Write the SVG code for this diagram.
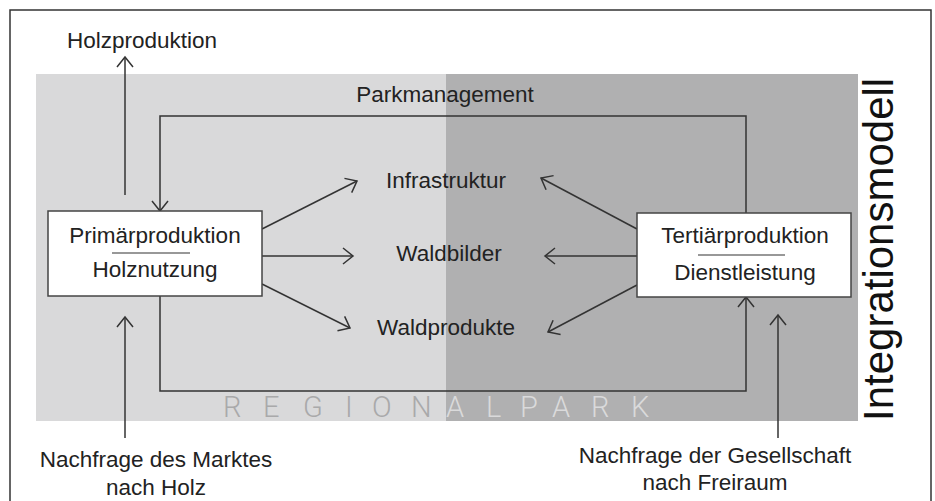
<svg xmlns="http://www.w3.org/2000/svg" width="935" height="501" viewBox="0 0 935 501">
<style>
.lbl{font-family:"Liberation Sans",Arial,sans-serif;font-size:22.5px;fill:#222;text-anchor:middle}
.ln{fill:none;stroke:#333;stroke-width:1.5}
.box{fill:#fff;stroke:#444;stroke-width:1.5}
.rp{font-family:Roboto,"Liberation Sans",sans-serif;font-weight:300;font-size:29px}
</style>
<defs>
<marker id="arr" viewBox="-12 -10 14 20" refX="0" refY="0" markerWidth="14" markerHeight="20" markerUnits="userSpaceOnUse" orient="auto">
<path d="M-10,-8 L0,0 L-10,8" fill="none" stroke="#333" stroke-width="1.5"/>
</marker>
</defs>
<rect x="0" y="0" width="935" height="501" fill="#fff"/>
<rect x="10" y="10" width="921" height="500" fill="none" stroke="#333" stroke-width="1.5"/>
<g id="background">
<rect x="36" y="74" width="410" height="347" fill="#d9d9da"/>
<rect x="446" y="74" width="412" height="347" fill="#b0b0b1"/>
<text class="rp" fill="#a9a9aa" x="223 263 303 345 372 411" y="417">REGION</text>
<text class="rp" fill="#dadadb" x="446 486 520 552 591 631" y="417">ALPARK</text>
</g>
<g id="connectors">
<line class="ln" x1="125" y1="195" x2="125" y2="57" marker-end="url(#arr)"/>
<polyline class="ln" points="746,213 746,116 160,116 160,211" marker-end="url(#arr)"/>
<polyline class="ln" points="160,296 160,391 746,391 746,297" marker-end="url(#arr)"/>
<line class="ln" x1="262" y1="229" x2="357" y2="181" marker-end="url(#arr)"/>
<line class="ln" x1="262" y1="256" x2="353" y2="256" marker-end="url(#arr)"/>
<line class="ln" x1="262" y1="284" x2="350" y2="328" marker-end="url(#arr)"/>
<line class="ln" x1="637" y1="229" x2="541" y2="178" marker-end="url(#arr)"/>
<line class="ln" x1="637" y1="256" x2="545" y2="256" marker-end="url(#arr)"/>
<line class="ln" x1="637" y1="285" x2="548" y2="332" marker-end="url(#arr)"/>
<line class="ln" x1="125" y1="438" x2="125" y2="317" marker-end="url(#arr)"/>
<line class="ln" x1="778" y1="438" x2="778" y2="315" marker-end="url(#arr)"/>
</g>
<g id="primaer">
<rect class="box" x="48" y="211" width="214" height="85"/>
<text class="lbl" x="155" y="243">Primärproduktion</text>
<line x1="112" y1="253" x2="190" y2="253" stroke="#333" stroke-width="1.2"/>
<text class="lbl" x="155" y="277">Holznutzung</text>
</g>
<g id="tertiaer">
<rect class="box" x="637" y="213" width="214" height="84"/>
<text class="lbl" x="745" y="243">Tertiärproduktion</text>
<line x1="698" y1="255" x2="785" y2="255" stroke="#333" stroke-width="1.2"/>
<text class="lbl" x="745" y="280">Dienstleistung</text>
</g>
<g id="holzproduktion"><text class="lbl" x="142" y="48">Holzproduktion</text></g>
<g id="parkmanagement"><text class="lbl" x="445" y="102">Parkmanagement</text></g>
<g id="infrastruktur"><text class="lbl" x="446" y="188">Infrastruktur</text></g>
<g id="waldbilder"><text class="lbl" x="449" y="261">Waldbilder</text></g>
<g id="waldprodukte"><text class="lbl" x="446" y="335">Waldprodukte</text></g>
<g id="nachfrage-markt">
<text class="lbl" x="156" y="467">Nachfrage des Marktes</text>
<text class="lbl" x="156" y="495">nach Holz</text>
</g>
<g id="nachfrage-gesellschaft">
<text class="lbl" x="715" y="463">Nachfrage der Gesellschaft</text>
<text class="lbl" x="715" y="490">nach Freiraum</text>
</g>
<g id="integrationsmodell">
<text transform="translate(893,421) rotate(-90)" x="0" y="0" font-family="Liberation Sans, Arial, sans-serif" font-size="42" fill="#111">Integrationsmodell</text>
</g>
</svg>
